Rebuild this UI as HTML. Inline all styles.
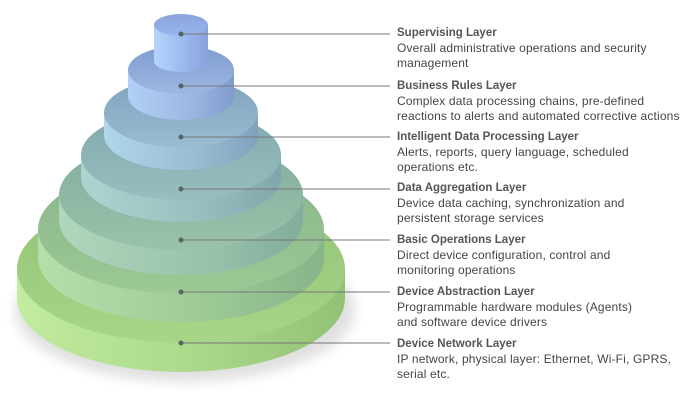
<!DOCTYPE html>
<html><head><meta charset="utf-8"><style>
body{margin:0;width:690px;height:408px;background:#fff;overflow:hidden;position:relative;font-family:"Liberation Sans",Arial,sans-serif}
.t{position:absolute;left:397px;font-size:12px;letter-spacing:0.15px;line-height:15px;color:#444;width:300px;white-space:nowrap}
.t b{color:#555;display:block;font-size:11.5px;letter-spacing:0}
</style></head><body>
<svg width="690" height="408" style="position:absolute;left:0;top:0">
<defs>
<filter id="sh"><feGaussianBlur stdDeviation="6"/></filter>
</defs>
<ellipse cx="185" cy="310" rx="170" ry="72" fill="#000" opacity="0.12" filter="url(#sh)"/>
<g id="tiers"></g>
<g stroke="#777" stroke-width="1">
<line x1="181" y1="34" x2="390" y2="34"/><line x1="181" y1="86" x2="390" y2="86"/>
<line x1="181" y1="137" x2="390" y2="137"/><line x1="181" y1="189" x2="390" y2="189"/>
<line x1="181" y1="240" x2="390" y2="240"/><line x1="181" y1="292" x2="390" y2="292"/>
<line x1="181" y1="343" x2="390" y2="343"/>
</g>
<g fill="#566">
<circle cx="181" cy="34" r="2.5"/><circle cx="181" cy="86" r="2.5"/><circle cx="181" cy="137" r="2.5"/>
<circle cx="181" cy="189" r="2.5"/><circle cx="181" cy="240" r="2.5"/><circle cx="181" cy="292" r="2.5"/>
<circle cx="181" cy="343" r="2.5"/>
</g>
</svg>
<script>
var T=[[164,195,372,"#c2eca0","#92c275","#a8d688"],[143,165,322,"#b6deaa","#88b48a","#9dc996"],[122,140,275,"#b0d6bc","#82ad9c","#9ac2ab"],[100,110,222,"#aed4d0","#80a8ac","#98bfbf"],[77,78,170,"#b0d6ea","#80a2bc","#9abcd2"],[53,46,120,"#b2d0f6","#809cce","#9cb7e2"],[27,14,72,"#b6d4fb","#8aa2dc","#9ab6ee"]];
var g=document.getElementById('tiers'),s='',cx=181;
T.forEach(function(t,i){var rx=t[0],ry=rx*0.45,yt=t[1]+ry,yb=t[2]-ry;
if(i==6){ry=11;yt=t[1]+ry;yb=t[2]-ry;}
s+='<linearGradient id="s'+i+'" x1="0" x2="1"><stop offset="0" stop-color="'+t[3]+'"/><stop offset="0.6" stop-color="'+t[5]+'"/><stop offset="1" stop-color="'+t[4]+'"/></linearGradient>';
s+='<linearGradient id="u'+i+'" x1="0" y1="0" x2="0" y2="1"><stop offset="0" stop-color="'+t[4]+'"/><stop offset="1" stop-color="'+t[5]+'"/></linearGradient>';
s+='<path d="M'+(cx-rx)+','+yt+' L'+(cx-rx)+','+yb+' A'+rx+','+ry+' 0 0 0 '+(cx+rx)+','+yb+' L'+(cx+rx)+','+yt+' Z" fill="url(#s'+i+')"/>';
s+='<ellipse cx="'+cx+'" cy="'+yt+'" rx="'+rx+'" ry="'+ry+'" fill="url(#u'+i+')"/>';});
g.innerHTML=s;
</script>
<div class="t" style="top:26px"><b>Supervising Layer</b>Overall administrative operations and security<br>management</div>
<div class="t" style="top:79px"><b>Business Rules Layer</b>Complex data processing chains, pre-defined<br>reactions to alerts and automated corrective actions</div>
<div class="t" style="top:130px"><b>Intelligent Data Processing Layer</b>Alerts, reports, query language, scheduled<br>operations etc.</div>
<div class="t" style="top:181px"><b>Data Aggregation Layer</b>Device data caching, synchronization and<br>persistent storage services</div>
<div class="t" style="top:233px"><b>Basic Operations Layer</b>Direct device configuration, control and<br>monitoring operations</div>
<div class="t" style="top:285px"><b>Device Abstraction Layer</b>Programmable hardware modules (Agents)<br>and software device drivers</div>
<div class="t" style="top:337px"><b>Device Network Layer</b>IP network, physical layer: Ethernet, Wi-Fi, GPRS,<br>serial etc.</div>
</body></html>
